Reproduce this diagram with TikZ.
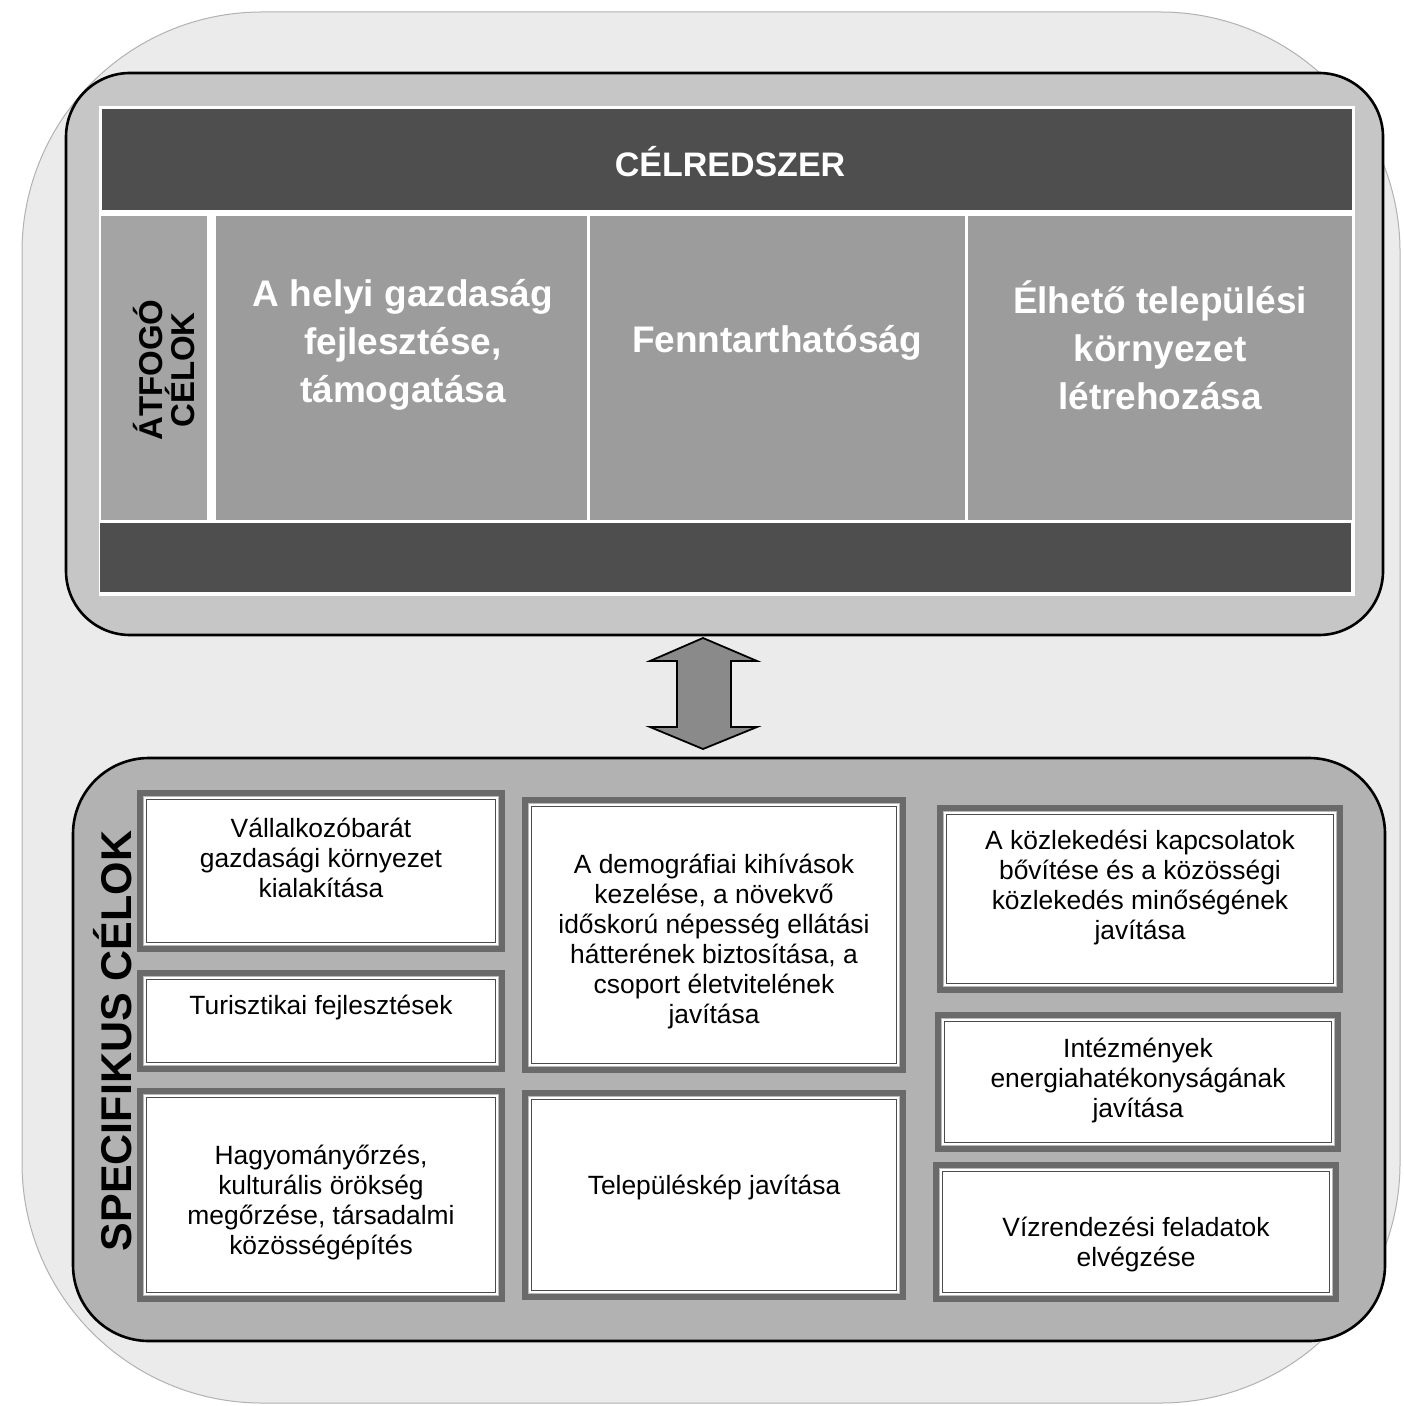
\documentclass[tikz,border=0pt]{standalone}
\usepackage{fontspec}
\setmainfont{Liberation Sans}
\usetikzlibrary{fit,calc}
\definecolor{bgGray}{HTML}{EBEBEB}
\definecolor{ringGray}{HTML}{C6C6C6}
\definecolor{cellGray}{HTML}{9C9C9C}
\definecolor{labGray}{HTML}{A4A4A4}
\definecolor{darkGray}{HTML}{4E4E4E}
\definecolor{lowGray}{HTML}{B2B2B2}
\definecolor{frameGray}{HTML}{6A6A6A}
\definecolor{arrGray}{HTML}{8A8A8A}
\newcommand\gbox[5]{%
  \node[framebox, fit={(#2,#3) (#4,#5)}] (#1) {};
  \draw[fill=white, draw=gray!55, line width=0.8pt] ([shift={(7,7)}]#1.north west) rectangle ([shift={(-7,-7)}]#1.south east);
  \draw[draw=black!70, line width=0.5pt] ([shift={(10,10)}]#1.north west) rectangle ([shift={(-10,-10)}]#1.south east);
}
\begin{document}
\begin{tikzpicture}[x=0.5pt,y=-0.5pt,
  outerbg/.style={fill=bgGray, draw=gray!60, line width=0.5pt, rounded corners=120pt},
  panel/.style={draw=black, line width=1.3pt, rounded corners=32pt},
  cell/.style={fill=cellGray, draw=none, inner sep=0pt},
  bar/.style={fill=darkGray, draw=none, inner sep=0pt},
  framebox/.style={fill=frameGray, draw=none, inner sep=0pt},
  celltext/.style={text=white, font=\bfseries\fontsize{18.5}{24}\selectfont, align=center},
  headtext/.style={text=white, font=\bfseries\fontsize{17}{20}\selectfont},
  sidetext/.style={text=black, font=\bfseries\fontsize{16.5}{13}\selectfont, align=center, rotate=90},
  spectext/.style={text=black, font=\bfseries\fontsize{21.5}{24}\selectfont, rotate=90},
  boxtext/.style={text=black, font=\fontsize{13.2}{15}\selectfont, align=center},
  arrowst/.style={fill=arrGray, draw=black, line width=0.9pt, line join=miter}
]
\useasboundingbox (0,0) rectangle (1403,1406);
\fill[white] (0,0) rectangle (1403,1406);
% outer background
\node[outerbg, fit={(22,12) (1400,1403)}, inner sep=0pt] (bg) {};

% top panel
\path[panel, fill=ringGray] (66,73) rectangle (1383,635);
\node[fit={(66,73) (1383,635)}, inner sep=0pt] (topPanel) {};
\fill[white] (99,106) rectangle (1355,596);
\node[bar, fit={(102,109) (1352,210)}] (header) {};
\node[headtext] (headT) at (730,162) {CÉLREDSZER};
\node[cell, fill=labGray, fit={(101,216) (207,520)}] (lab) {};
\node[cell, fit={(216,216) (587,520)}] (c1) {};
\node[cell, fit={(590,216) (965,520)}] (c2) {};
\node[cell, fit={(968,216) (1352,520)}] (c3) {};
\node[bar, fit={(100,523) (1351,592)}] (footer) {};
\node[sidetext] (labT) at (164,370) {ÁTFOGÓ\\CÉLOK};
\node[celltext] (c1T) at (403,345) {A helyi gazdaság\\fejlesztése,\\támogatása};
\node[celltext] (c2T) at (777,343) {Fenntarthatóság};
\node[celltext] (c3T) at (1160,345) {Élhető települési\\környezet\\létrehozása};

% bottom panel
\path[panel, fill=lowGray, rounded corners=38pt] (73,758) rectangle (1385,1341);
\node[fit={(73,758) (1385,1341)}, inner sep=0pt] (lowPanel) {};
\node[spectext] (specT) at (113,1041) {SPECIFIKUS CÉLOK};

% arrow between panels
\coordinate (aT) at (703,638);
\coordinate (aB) at (703,749);
\draw[arrowst] (aT) -- ($(aT)+(54,23)$) -- ($(aT)+(28,23)$) -- ($(aB)+(28,-22)$) -- ($(aB)+(54,-22)$) -- (aB)
  -- ($(aB)+(-53,-22)$) -- ($(aB)+(-26,-22)$) -- ($(aT)+(-26,23)$) -- ($(aT)+(-53,23)$) -- cycle;

% goal boxes
\gbox{b1}{137}{790}{505}{952}
\gbox{b2}{137}{970}{505}{1072}
\gbox{b3}{137}{1088}{505}{1302}
\gbox{b4}{522}{797}{906}{1073}
\gbox{b5}{522}{1090}{906}{1300}
\gbox{b6}{937}{805}{1343}{993}
\gbox{b7}{935}{1012}{1341}{1152}
\gbox{b8}{933}{1162}{1339}{1302}

\node[boxtext] (t1) at (321,858) {Vállalkozóbarát\\gazdasági környezet\\kialakítása};
\node[boxtext] (t2) at (321,1008) {Turisztikai fejlesztések};
\node[boxtext] (t3) at (321,1203) {Hagyományőrzés,\\kulturális örökség\\megőrzése, társadalmi\\közösségépítés};
\node[boxtext] (t4) at (714,942) {A demográfiai kihívások\\kezelése, a növekvő\\időskorú népesség ellátási\\hátterének biztosítása, a\\csoport életvitelének\\javítása};
\node[boxtext] (t5) at (714,1188) {Településkép javítása};
\node[boxtext] (t6) at (1140,888) {A közlekedési kapcsolatok\\bővítése és a közösségi\\közlekedés minőségének\\javítása};
\node[boxtext] (t7) at (1138,1081) {Intézmények\\energiahatékonyságának\\javítása};
\node[boxtext] (t8) at (1136,1245) {Vízrendezési feladatok\\elvégzése};
\end{tikzpicture}
\end{document}
